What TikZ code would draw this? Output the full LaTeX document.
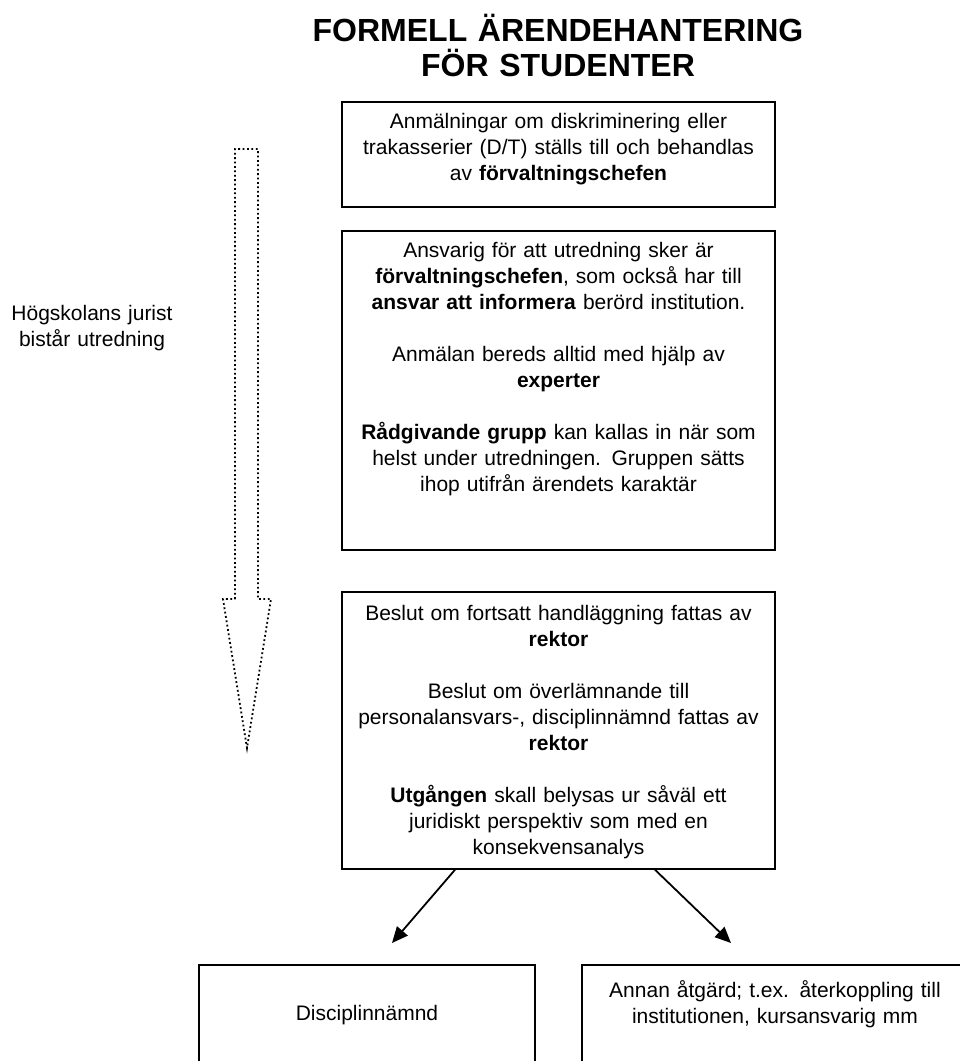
\documentclass[tikz,border=0pt]{standalone}
\usepackage{fontspec}
\setmainfont{Liberation Sans}
\usetikzlibrary{arrows.meta}

\begin{document}
\begin{tikzpicture}[x=1pt, y=-1pt, >={Triangle[length=16pt,width=14pt]}, semithick]

    \tikzstyle{box}=[draw=black, line width=1.5pt, minimum width=433pt, inner sep=0pt]
    \tikzstyle{txt}=[text width=470pt, align=center, inner sep=0pt, font=\fontsize{21}{26}\selectfont]
    \tikzstyle{flow}=[->, line width=1.8pt]

    \useasboundingbox (0,0) rectangle (960,1061);
    \clip (0,0) rectangle (960,1061);

    \node[txt, anchor=north, text width=600pt, font=\bfseries\fontsize{32}{35}\selectfont] (title) at (558,14)
        {FORMELL ÄRENDEHANTERING\\FÖR STUDENTER};

    \node[box, minimum height=105pt] (anm)    at (558.5,154.5) {};
    \node[box, minimum height=319pt] (utred)  at (558.5,390.5) {};
    \node[box, minimum height=277pt] (beslut) at (558.5,730.5) {};
    \node[box, minimum width=336pt, minimum height=140pt] (disc)  at (367,1035) {};
    \node[box, minimum width=386pt, minimum height=140pt] (annan) at (775,1035) {};

    \node[txt, anchor=north] (anmtxt) at ([yshift=-12pt]anm.north)
        {Anmälningar om diskriminering eller\\
         trakasserier (D/T) ställs till och behandlas\\
         av \textbf{förvaltningschefen}};

    \node[txt, anchor=north] (utredtxt) at ([yshift=-12pt]utred.north)
        {Ansvarig för att utredning sker är\\
         \textbf{förvaltningschefen}, som också har till\\
         \textbf{ansvar att informera} berörd institution.\\[26pt]
         Anmälan bereds alltid med hjälp av\\
         \textbf{experter}\\[26pt]
         \textbf{Rådgivande grupp} kan kallas in när som\\
         helst under utredningen. Gruppen sätts\\
         ihop utifrån ärendets karaktär};

    \node[txt, anchor=north] (beslutxt) at ([yshift=-14pt]beslut.north)
        {Beslut om fortsatt handläggning fattas av\\
         \textbf{rektor}\\[26pt]
         Beslut om överlämnande till\\
         personalansvars-, disciplinnämnd fattas av\\
         \textbf{rektor}\\[26pt]
         \textbf{Utgången} skall belysas ur såväl ett\\
         juridiskt perspektiv som med en\\
         konsekvensanalys};

    \node[txt, anchor=base, text width=320pt] (disctxt) at (367,1020) {Disciplinnämnd};
    \node[txt, anchor=north, text width=380pt] (annantxt) at (775,980)
        {Annan åtgärd; t.ex. återkoppling till\\
         institutionen, kursansvarig  mm};

    \node[txt, anchor=north, text width=200pt] (jurist) at (92,305)
        {Högskolans jurist\\bistår utredning};

    % dotted block arrow
    \draw[line width=1.8pt, dash pattern=on 1.8pt off 2.6pt]
        (235,599) -- (235,149) -- (258,149) -- (258,599) -- (271,599)
        -- (247,748) -- (223,599) -- cycle;

    \coordinate (lend) at (392,943);
    \coordinate (rend) at (731,943);
    \draw[flow] ([xshift=-103.5pt]beslut.south) -- (lend);
    \draw[flow] ([xshift=96.5pt]beslut.south) -- (rend);

\end{tikzpicture}
\end{document}
